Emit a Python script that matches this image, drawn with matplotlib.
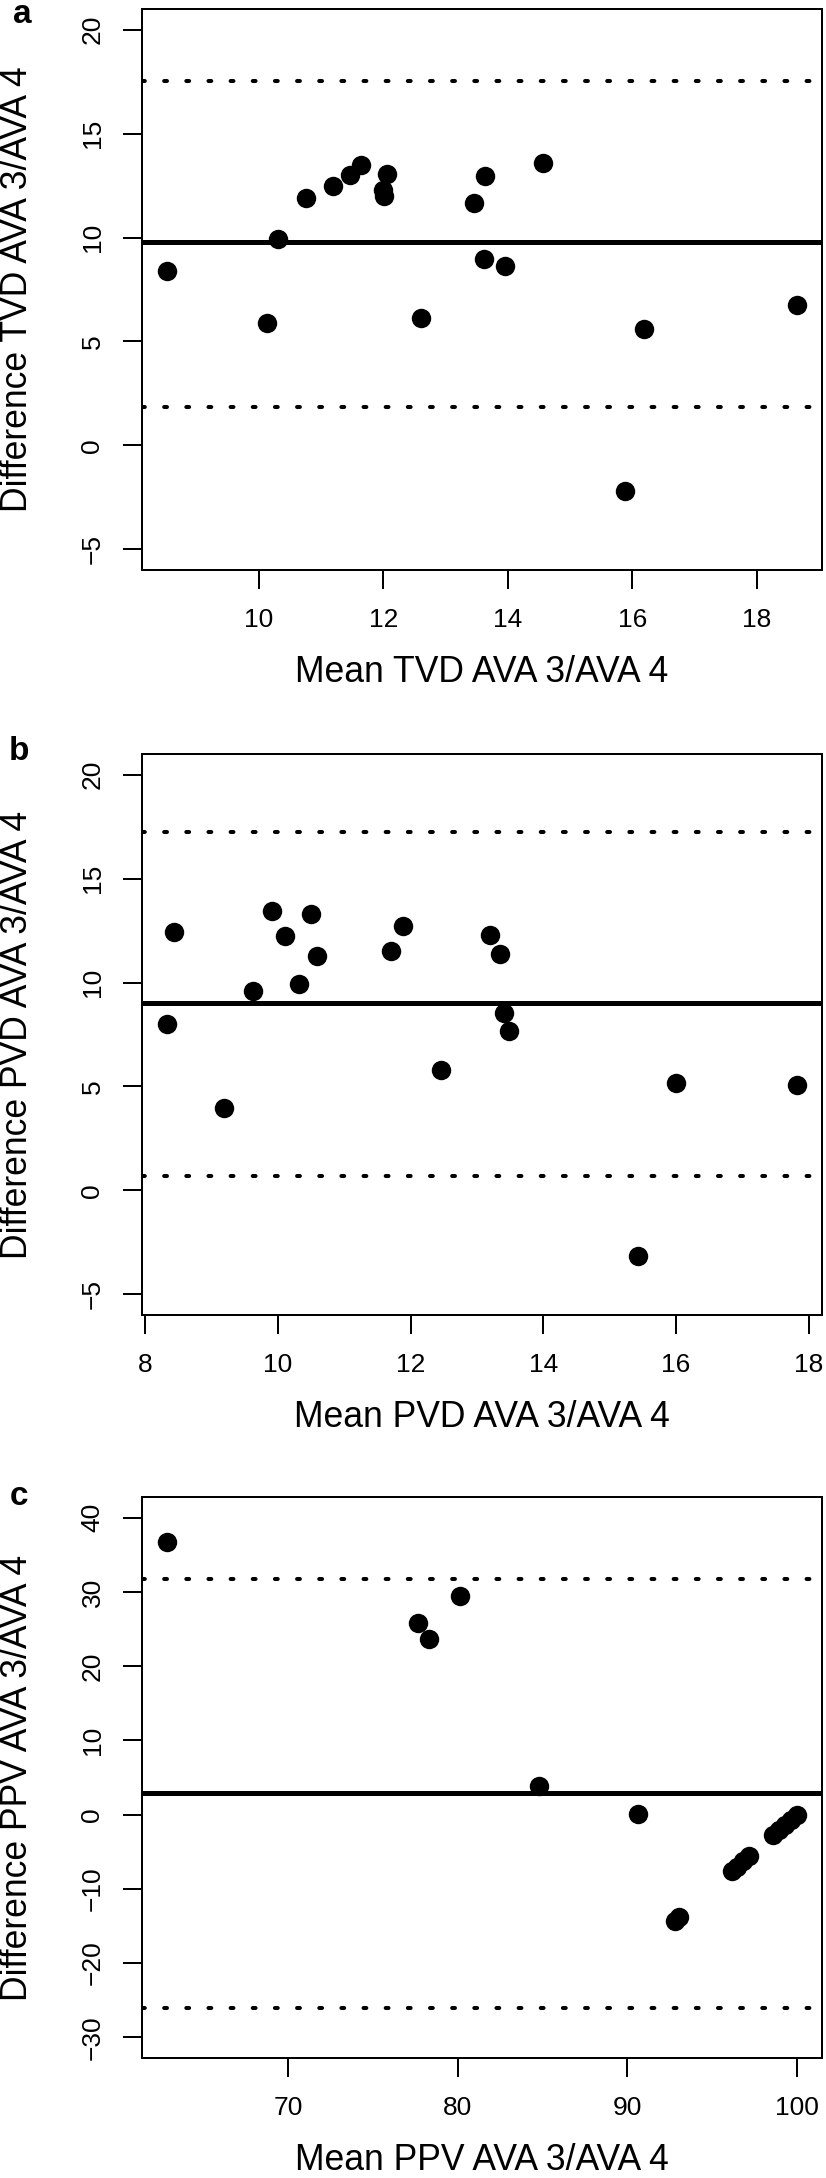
import numpy as np
import matplotlib
matplotlib.use("Agg")
import matplotlib.pyplot as plt

plt.rcParams['font.family'] = ['Liberation Sans', 'DejaVu Sans']

# --- data (Bland-Altman plots) ---
# a: TVD
tvd_mean = [8.53, 10.14, 10.31, 10.76, 11.19, 11.47, 11.65, 12.00, 12.01, 12.06,
            12.61, 13.45, 13.61, 13.64, 13.96, 14.56, 15.88, 16.19, 18.64]
tvd_diff = [8.41, 5.89, 9.92, 11.89, 12.50, 13.02, 13.48, 12.28, 12.01, 13.08,
            6.12, 11.64, 8.95, 12.98, 8.62, 13.61, -2.22, 5.58, 6.73]
tvd_lines = [9.77, 17.55, 1.85]   # mean, upper LoA, lower LoA

# b: PVD
pvd_mean = [8.33, 8.44, 9.19, 9.62, 9.91, 10.11, 10.31, 10.50, 10.59, 11.70,
            11.89, 12.46, 13.19, 13.34, 13.41, 13.48, 15.43, 16.00, 17.82]
pvd_diff = [7.99, 12.45, 3.98, 9.59, 13.43, 12.26, 9.94, 13.31, 11.27, 11.53,
            12.71, 5.79, 12.31, 11.37, 8.52, 7.69, -3.15, 5.15, 5.05]
pvd_lines = [9.02, 17.27, 0.69]

# c: PPV
ppv_mean = [62.85, 77.65, 78.30, 80.10, 84.80, 90.60, 92.80, 93.05,
            96.2, 96.5, 96.85, 97.2, 98.6, 98.95, 99.3, 99.65, 100.0]
ppv_diff = [36.8, 25.8, 23.7, 29.4, 3.85, 0.1, -14.3, -13.8,
            -7.6, -7.0, -6.3, -5.6, -2.8, -2.1, -1.4, -0.7, 0.0]
ppv_lines = [2.9, 31.7, -26.1]

panels = [
    dict(letter='a', x=tvd_mean, y=tvd_diff, lines=tvd_lines, ylim=(-5, 20),
         xticks=[10, 12, 14, 16, 18], yticks=[-5, 0, 5, 10, 15, 20],
         xlabel='Mean TVD AVA 3/AVA 4', ylabel='Difference TVD AVA 3/AVA 4'),
    dict(letter='b', x=pvd_mean, y=pvd_diff, lines=pvd_lines, ylim=(-5, 20),
         xticks=[8, 10, 12, 14, 16, 18], yticks=[-5, 0, 5, 10, 15, 20],
         xlabel='Mean PVD AVA 3/AVA 4', ylabel='Difference PVD AVA 3/AVA 4'),
    dict(letter='c', x=ppv_mean, y=ppv_diff, lines=ppv_lines, ylim=(-30, 40),
         xticks=[70, 80, 90, 100], yticks=[-30, -20, -10, 0, 10, 20, 30, 40],
         xlabel='Mean PPV AVA 3/AVA 4', ylabel='Difference PPV AVA 3/AVA 4'),
]

W, H = 826, 2178
fig = plt.figure(figsize=(W / 100, H / 100), dpi=100)

# box positions in pixels (top, bottom)
boxes = [(9, 570), (754, 1315), (1497, 2058)]
letter_pos = [(22, 23), (19, 760), (19, 1505)]


def r_range(lo, hi):
    # R style 4% axis extension
    r = hi - lo
    return lo - 0.04 * r, hi + 0.04 * r


for p, (top, bot), (lx, ly) in zip(panels, boxes, letter_pos):
    h = bot - top
    ax = fig.add_axes([142 / W, 1 - bot / H, 680 / W, h / H])
    ax.plot(p['x'], p['y'], 'o', color='black', ms=14, mew=0)
    mean, upper, lower = p['lines']
    ax.axhline(mean, color='black', lw=3.6)
    for v in (upper, lower):
        ax.axhline(v, color='black', lw=2.9, linestyle=(0, (0.7, 4.8)),
                   dash_capstyle='round')

    ax.set_xlim(*r_range(min(p['x']), max(p['x'])))
    ax.set_ylim(*r_range(*p['ylim']))
    ax.set_xticks(p['xticks'])
    ax.set_yticks(p['yticks'])
    ax.tick_params(length=13.5, width=1.44, labelsize=19, direction='out')
    ax.tick_params(axis='x', pad=14)
    ax.tick_params(axis='y', pad=13.5, labelrotation=90)
    for lbl in ax.get_yticklabels():
        lbl.set_verticalalignment('center')
    for s in ax.spines.values():
        s.set_linewidth(1.44)

    ax.text(0.5, -112 / h, p['xlabel'], transform=ax.transAxes,
            ha='center', va='baseline', fontsize=25.6)
    ax.text(-115 / 680, 0.5, p['ylabel'], transform=ax.transAxes,
            ha='center', va='baseline', rotation=90, rotation_mode='anchor',
            fontsize=25.6)
    fig.text(lx / W, 1 - ly / H, p['letter'], ha='center', va='baseline',
             fontsize=24, fontweight='bold')

fig.savefig('out.png', dpi=100)
